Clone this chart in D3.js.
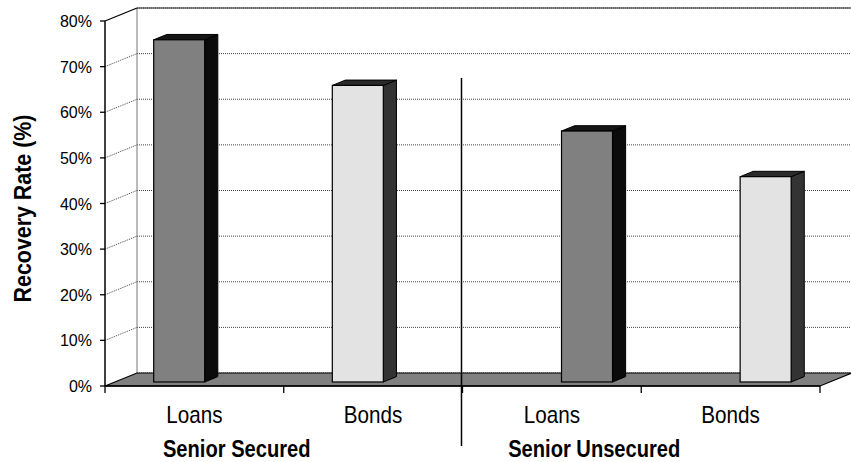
<!DOCTYPE html>
<html>
<head>
<meta charset="utf-8">
<script src="https://cdn.jsdelivr.net/npm/d3@7"></script>
<style>
  html, body { margin: 0; padding: 0; background: #fff; }
  svg { display: block; }
  text { font-family: "Liberation Sans", Arial, Helvetica, sans-serif; fill: #000; }
</style>
</head>
<body>
<svg id="chart" width="851" height="462"></svg>
<script>
// Recovery rates (%) by seniority and instrument
const groups = ["Senior Secured", "Senior Unsecured"];
const instruments = ["Loans", "Bonds"];
const securedRates = [75, 65];
const unsecuredRates = [55, 45];
const yTicks = [0, 10, 20, 30, 40, 50, 60, 70, 80];
const yTickLabels = ["0%", "10%", "20%", "30%", "40%", "50%", "60%", "70%", "80%"];
const yTitle = "Recovery Rate (%)";

const rows = [];
[securedRates, unsecuredRates].forEach((vals, gi) => {
  vals.forEach((v, ii) => rows.push({ group: groups[gi], instrument: instruments[ii], idx: ii, value: v }));
});

// Oblique 3-D frame: front plane and the offset to the back wall
const svg = d3.select("#chart");
const X0 = 105, X1 = 820, Y0 = 386, Y1 = 21;
const DX = 32, DY = -13;           // depth vector of the floor
const F0 = 0.31, F1 = 0.72;        // bar front / back as fractions of depth
const barW = 51;

const y = d3.scaleLinear().domain([0, 80]).range([Y0, Y1]);
const xCat = d3.scaleBand().domain(d3.range(rows.length)).range([X0, X1]);
const xGroup = d3.scalePoint().domain(groups).range([X0, X1]).padding(0.3766);
const inner = xGroup.step() * 0.219;
const xInner = d3.scalePoint().domain(instruments).range([-inner, inner]);

const faceColors = {
  Loans: { front: "#808080", side: "#0b0b0b", top: "#151515" },
  Bonds: { front: "#e3e3e3", side: "#333333", top: "#2b2b2b" }
};

// condensed lettering: squeeze a text's natural width by a factor
function condense(sel, k) {
  sel.each(function () {
    const w = this.getComputedTextLength();
    d3.select(this).attr("textLength", w * k).attr("lengthAdjust", "spacingAndGlyphs");
  });
  return sel;
}

// back wall gridlines
const grid = svg.append("g");
yTicks.forEach(t => {
  grid.append("line")
    .attr("x1", X0 + DX).attr("x2", X1 + DX)
    .attr("y1", y(t) + DY).attr("y2", y(t) + DY)
    .attr("stroke", "#444").attr("stroke-width", 1).attr("stroke-dasharray", "1,1");
  if (t > 0 && t < 80) {
    grid.append("line")
      .attr("x1", X0).attr("y1", y(t))
      .attr("x2", X0 + DX).attr("y2", y(t) + DY)
      .attr("stroke", "#444").attr("stroke-width", 1).attr("stroke-dasharray", "1,1");
  }
});

// walls' edges
svg.append("line")
  .attr("x1", X0 + DX).attr("x2", X0 + DX)
  .attr("y1", y(80) + DY).attr("y2", y(0) + DY)
  .attr("stroke", "#777").attr("stroke-width", 1);
svg.append("line")
  .attr("x1", X0 + DX).attr("x2", X1 + DX)
  .attr("y1", y(80) + DY).attr("y2", y(80) + DY)
  .attr("stroke", "#222").attr("stroke-width", 1.2);
svg.append("line")
  .attr("x1", X0).attr("y1", y(80))
  .attr("x2", X0 + DX).attr("y2", y(80) + DY)
  .attr("stroke", "#000").attr("stroke-width", 1.3);

// floor
svg.append("polygon")
  .attr("points", [[X0, Y0], [X0 + DX, Y0 + DY], [X1 + DX, Y0 + DY], [X1, Y0]].map(p => p.join(",")).join(" "))
  .attr("fill", "#808080").attr("stroke", "#000").attr("stroke-width", 1.2);

// bars
const bdx = (F1 - F0) * DX, bdy = (F1 - F0) * DY;
const bars = svg.append("g").selectAll("g").data(rows).join("g");
bars.each(function (d) {
  const g = d3.select(this);
  const c = faceColors[d.instrument];
  const L = xGroup(d.group) + xInner(d.instrument) - barW / 2 + F0 * DX;
  const R = L + barW;
  const yB = y(0) + F0 * DY;
  const yT = y(d.value) + F0 * DY;
  const pts = a => a.map(p => p.join(",")).join(" ");
  g.append("polygon")
    .attr("points", pts([[R, yT], [R + bdx, yT + bdy], [R + bdx, yB + bdy], [R, yB]]))
    .attr("fill", c.side).attr("stroke", "#000").attr("stroke-width", 1).attr("stroke-linejoin", "round");
  g.append("polygon")
    .attr("points", pts([[L, yT], [L + bdx, yT + bdy], [R + bdx, yT + bdy], [R, yT]]))
    .attr("fill", c.top).attr("stroke", "#000").attr("stroke-width", 1).attr("stroke-linejoin", "round");
  g.append("rect")
    .attr("x", L).attr("y", yT).attr("width", barW).attr("height", yB - yT)
    .attr("fill", c.front).attr("stroke", "#000").attr("stroke-width", 1.2);
});

// value axis
const yAxis = svg.append("g");
yAxis.append("line")
  .attr("x1", X0).attr("x2", X0).attr("y1", Y1).attr("y2", Y0)
  .attr("stroke", "#000").attr("stroke-width", 1.5);
yTicks.forEach((t, i) => {
  yAxis.append("line")
    .attr("x1", X0 - 5).attr("x2", X0).attr("y1", y(t)).attr("y2", y(t))
    .attr("stroke", "#000").attr("stroke-width", 1.3);
  yAxis.append("text")
    .attr("x", X0 - 13).attr("y", y(t) + 6)
    .attr("text-anchor", "end").attr("font-size", 16)
    .text(yTickLabels[i]);
});

condense(svg.append("text")
  .attr("transform", `translate(31,${(Y0 + Y1) / 2 + 5}) rotate(-90)`)
  .attr("text-anchor", "middle").attr("font-size", 23).attr("font-weight", "bold")
  .text(yTitle), 0.93);

// category axis
const xAxis = svg.append("g");
xAxis.append("line")
  .attr("x1", X0).attr("x2", X1).attr("y1", Y0).attr("y2", Y0)
  .attr("stroke", "#000").attr("stroke-width", 1.5);
d3.range(rows.length + 1).forEach(i => {
  const xx = i < rows.length ? xCat(i) : X1;
  xAxis.append("line")
    .attr("x1", xx).attr("x2", xx).attr("y1", Y0).attr("y2", Y0 + 7)
    .attr("stroke", "#000").attr("stroke-width", 1.3);
});
rows.forEach((d, i) => {
  condense(xAxis.append("text")
    .attr("x", xCat(i) + xCat.bandwidth() / 2).attr("y", 423)
    .attr("text-anchor", "middle").attr("font-size", 24)
    .text(d.instrument), 0.86);
});
groups.forEach((g, gi) => {
  const gx = X0 + (X1 - X0) * (gi + 0.5) / groups.length;
  condense(svg.append("text")
    .attr("x", gx - 47).attr("y", 456.5)
    .attr("text-anchor", "middle").attr("font-size", 23).attr("font-weight", "bold")
    .text(g), 0.875);
});

// divider between the two seniority groups
const divX = (X0 + X1) / 2 - 1;
svg.append("line")
  .attr("x1", divX).attr("x2", divX).attr("y1", 78).attr("y2", 446)
  .attr("stroke", "#000").attr("stroke-width", 1.5);
</script>
</body>
</html>
